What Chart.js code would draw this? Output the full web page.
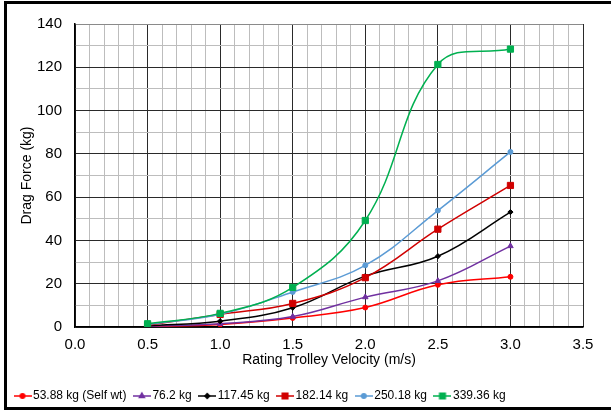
<!DOCTYPE html>
<html>
<head>
<meta charset="utf-8">
<script src="https://cdn.jsdelivr.net/npm/chart.js@4/dist/chart.umd.min.js"></script>
<style>
  html, body { margin: 0; padding: 0; background: #fff; overflow: hidden; }
  #frame {
    position: absolute; left: 4px; top: 1px; width: 700px; height: 409px;
    border: 3px solid #000; box-sizing: border-box;
  }
  #wrap { position: absolute; left: 0; top: 0; width: 611px; height: 412px; }
</style>
</head>
<body>
<div id="frame"></div>
<div id="wrap"><canvas id="graph" width="611" height="412"></canvas></div>
<script>
'use strict';

// velocities (m/s)
let velocity = [0.5, 1.0, 1.5, 2.0, 2.5, 3.0];

// drag force (kg) per trolley load
let load5388 = [0.2, 1.2, 4.2, 9.0, 19.5, 23.2];
let load762 = [0.3, 1.5, 4.8, 13.8, 21.3, 37.4];
let load11745 = [0.5, 2.7, 8.9, 23.5, 32.7, 53.1];
let load18214 = [0.8, 5.8, 10.9, 22.8, 45.2, 65.4];
let load25018 = [1.2, 5.9, 16.2, 28.5, 53.8, 80.9];
let load33936 = [1.5, 6.3, 18.3, 49.2, 121.3, 128.4];

let seriesNames = ['53.88 kg (Self wt)', '76.2 kg', '117.45 kg', '182.14 kg', '250.18 kg', '339.36 kg'];
let seriesValues = [load5388, load762, load11745, load18214, load25018, load33936];
let seriesColors = ['#ff0000', '#7030a0', '#000000', '#d00000', '#5b9bd5', '#00b050'];
let seriesMarkers = ['circle', 'triangle', 'rectRot', 'rect', 'circle', 'rect'];
let markerSizes = [2.5, 3.2, 2.6, 4.4, 2.5, 4.4];

let xTicks = { min: 0, max: 3.5, minor: 0.1 };
let yTicks = { min: 0, max: 140, minor: 10 };

function toPoints(values) {
  let pts = [];
  for (let i = 0; i < velocity.length; i++) {
    pts.push({ x: velocity[i], y: values[i] });
  }
  return pts;
}

// small line+marker image for the legend
function legendIcon(color, marker, r) {
  let c = document.createElement('canvas');
  c.width = 18;
  c.height = 12;
  let g = c.getContext('2d');
  g.strokeStyle = color;
  g.fillStyle = color;
  g.lineWidth = 1.5;
  g.beginPath();
  g.moveTo(0, 6);
  g.lineTo(18, 6);
  g.stroke();
  Chart.helpers.drawPoint(g, { pointStyle: marker, radius: r * 0.9, borderWidth: 1 }, 9, 6);
  return c;
}

let datasets = [];
for (let i = 0; i < seriesNames.length; i++) {
  datasets.push({
    label: seriesNames[i],
    data: toPoints(seriesValues[i]),
    borderColor: seriesColors[i],
    backgroundColor: seriesColors[i],
    borderWidth: 1.5,
    pointStyle: seriesMarkers[i],
    pointRadius: markerSizes[i],
    pointBorderWidth: 1,
    tension: 0.4,
    order: seriesNames.length - i
  });
}

function isMajor(v, step) {
  let q = v / step;
  return Math.abs(q - Math.round(q)) < 1e-6;
}

const ctx = document.getElementById('graph').getContext('2d');
let graph = new Chart(ctx, { //eslint-disable-line
  type: 'line',
  data: { datasets: datasets },
  options: {
    responsive: false,
    animation: false,
    layout: { padding: { left: 7, right: 28, top: 24, bottom: 0 } },
    plugins: {
      tooltip: { enabled: false },
      legend: {
        position: 'bottom',
        align: 'start',
        labels: {
          usePointStyle: true,
          pointStyleWidth: 9,
          padding: 11,
          color: '#000',
          font: { family: 'Liberation Sans, Arial, sans-serif', size: 12 },
          generateLabels: function () {
            let items = [];
            for (let i = 0; i < seriesNames.length; i++) {
              items.push({
                text: seriesNames[i],
                pointStyle: legendIcon(seriesColors[i], seriesMarkers[i], markerSizes[i]),
                fillStyle: seriesColors[i],
                strokeStyle: seriesColors[i],
                fontColor: '#000',
                lineWidth: 0,
                datasetIndex: i
              });
            }
            return items;
          }
        }
      }
    },
    scales: {
      x: {
        type: 'linear',
        min: xTicks.min,
        max: xTicks.max,
        afterFit: function (scale) { scale.height = 52; },
        ticks: {
          stepSize: xTicks.minor,
          autoSkip: false,
          maxRotation: 0,
          padding: 9,
          color: '#000',
          font: { family: 'Liberation Sans, Arial, sans-serif', size: 15 },
          callback: function (v) { return isMajor(v, 0.5) ? v.toFixed(1) : ''; }
        },
        grid: {
          drawTicks: false,
          lineWidth: 1,
          color: function (c) {
            return isMajor(c.tick.value, 0.5) ? '#2a2a2a' : '#bdbdbd';
          }
        },
        border: { color: '#000', width: 1.5 },
        title: {
          display: true,
          text: 'Rating Trolley Velocity (m/s)',
          color: '#000',
          padding: { top: 0, bottom: 10 },
          font: { family: 'Liberation Sans, Arial, sans-serif', size: 14 }
        }
      },
      y: {
        min: yTicks.min,
        max: yTicks.max,
        afterFit: function (scale) { scale.width = 68; },
        ticks: {
          stepSize: yTicks.minor,
          padding: 13,
          color: '#000',
          font: { family: 'Liberation Sans, Arial, sans-serif', size: 15 },
          callback: function (v) { return isMajor(v, 20) ? v : ''; }
        },
        grid: {
          drawTicks: false,
          lineWidth: 1,
          color: function (c) {
            if (c.tick.value === yTicks.max) return '#8a8a8a';
            return isMajor(c.tick.value, 20) ? '#2a2a2a' : '#bdbdbd';
          }
        },
        border: { color: '#000', width: 1.5 },
        title: {
          display: true,
          text: 'Drag Force (kg)',
          color: '#000',
          padding: { top: 12, bottom: 0 },
          font: { family: 'Liberation Sans, Arial, sans-serif', size: 14 }
        }
      }
    }
  }
});
</script>
</body>
</html>
